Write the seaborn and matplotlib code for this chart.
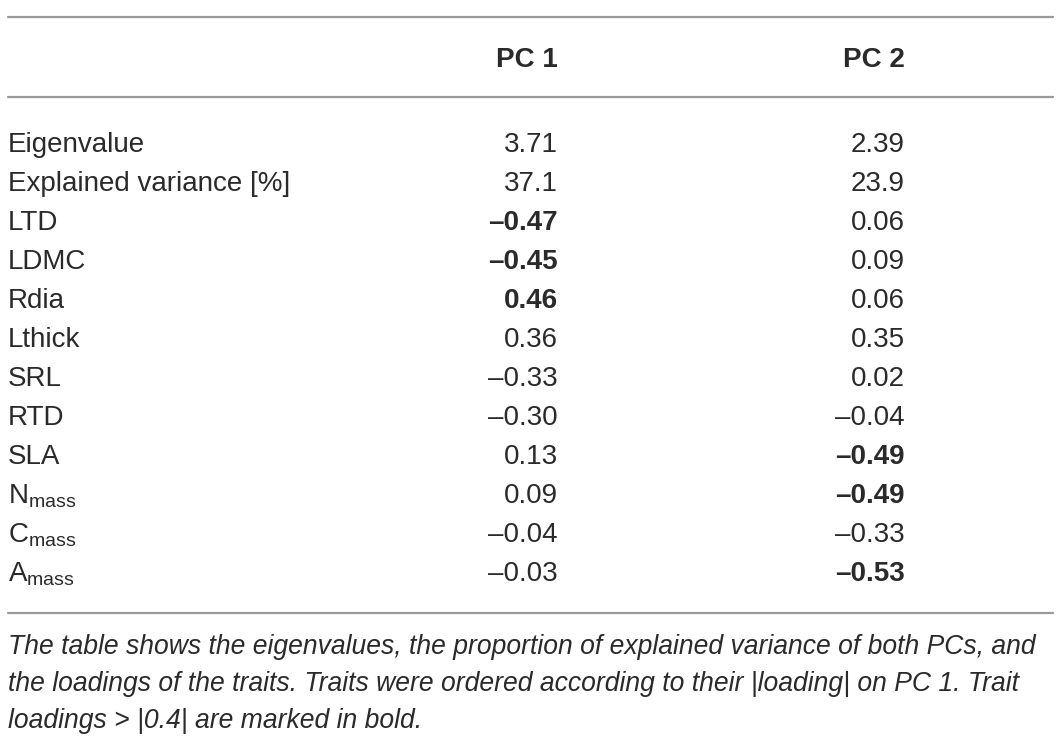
"""
PCA eigenvalues, explained variance and trait loadings, drawn as a table
"""
import matplotlib
matplotlib.use('Agg')
import matplotlib.pyplot as plt
import seaborn as sns

columns = ['PC 1', 'PC 2']
row_labels = ['Eigenvalue', 'Explained variance [%]', 'LTD', 'LDMC', 'Rdia', 'Lthick',
              'SRL', 'RTD', 'SLA', r'N$_{\mathregular{mass}}$', r'C$_{\mathregular{mass}}$',
              r'A$_{\mathregular{mass}}$']
pc1 = ['3.71', '37.1', '\u20130.47', '\u20130.45', '0.46', '0.36', '\u20130.33', '\u20130.30',
       '0.13', '0.09', '\u20130.04', '\u20130.03']
pc2 = ['2.39', '23.9', '0.06', '0.09', '0.06', '0.35', '0.02', '\u20130.04',
       '\u20130.49', '\u20130.49', '\u20130.33', '\u20130.53']
# loadings > |0.4| are bold
pc1_bold = [False, False, True, True, True, False, False, False, False, False, False, False]
pc2_bold = [False, False, False, False, False, False, False, False, True, True, False, True]
caption = ['The table shows the eigenvalues, the proportion of explained variance of both PCs, and',
           'the loadings of the traits. Traits were ordered according to their |loading| on PC 1. Trait',
           'loadings > |0.4| are marked in bold.']

sns.set_theme(style='white')
plt.rcParams['font.family'] = ['Liberation Sans', 'DejaVu Sans']
plt.rcParams['mathtext.fontset'] = 'custom'
plt.rcParams['mathtext.rm'] = 'Liberation Sans'

fig = plt.figure(figsize=(10.61, 7.53), dpi=100)
ax = fig.add_axes([0, 0, 1, 1])
ax.set_xlim(0, 1061)
ax.set_ylim(753, 0)
ax.axis('off')

txt = '#2a2a2a'
fs = 20
rule = dict(color='#9a9a9a', lw=1.6)

ax.plot([8, 1053], [17, 17], **rule)
ax.plot([8, 1053], [97, 97], **rule)
ax.plot([8, 1053], [613, 613], **rule)

col_x = [558, 905]
for x, name in zip(col_x, columns):
    ax.text(x, 67, name, ha='right', va='baseline', fontsize=fs, fontweight='bold', color=txt)

y0, dy = 152, 39
for i, lab in enumerate(row_labels):
    y = y0 + i * dy
    ax.text(8, y, lab, ha='left', va='baseline', fontsize=fs, color=txt)
    for x, vals, bold in ((col_x[0], pc1, pc1_bold), (col_x[1], pc2, pc2_bold)):
        ax.text(x, y, vals[i], ha='right', va='baseline', fontsize=fs, color=txt,
                fontweight='bold' if bold[i] else 'normal')

for j, line in enumerate(caption):
    ax.text(8, 654 + j * 37, line, ha='left', va='baseline', fontsize=19.1,
            style='italic', color=txt)

fig.savefig('out.png', dpi=100)
